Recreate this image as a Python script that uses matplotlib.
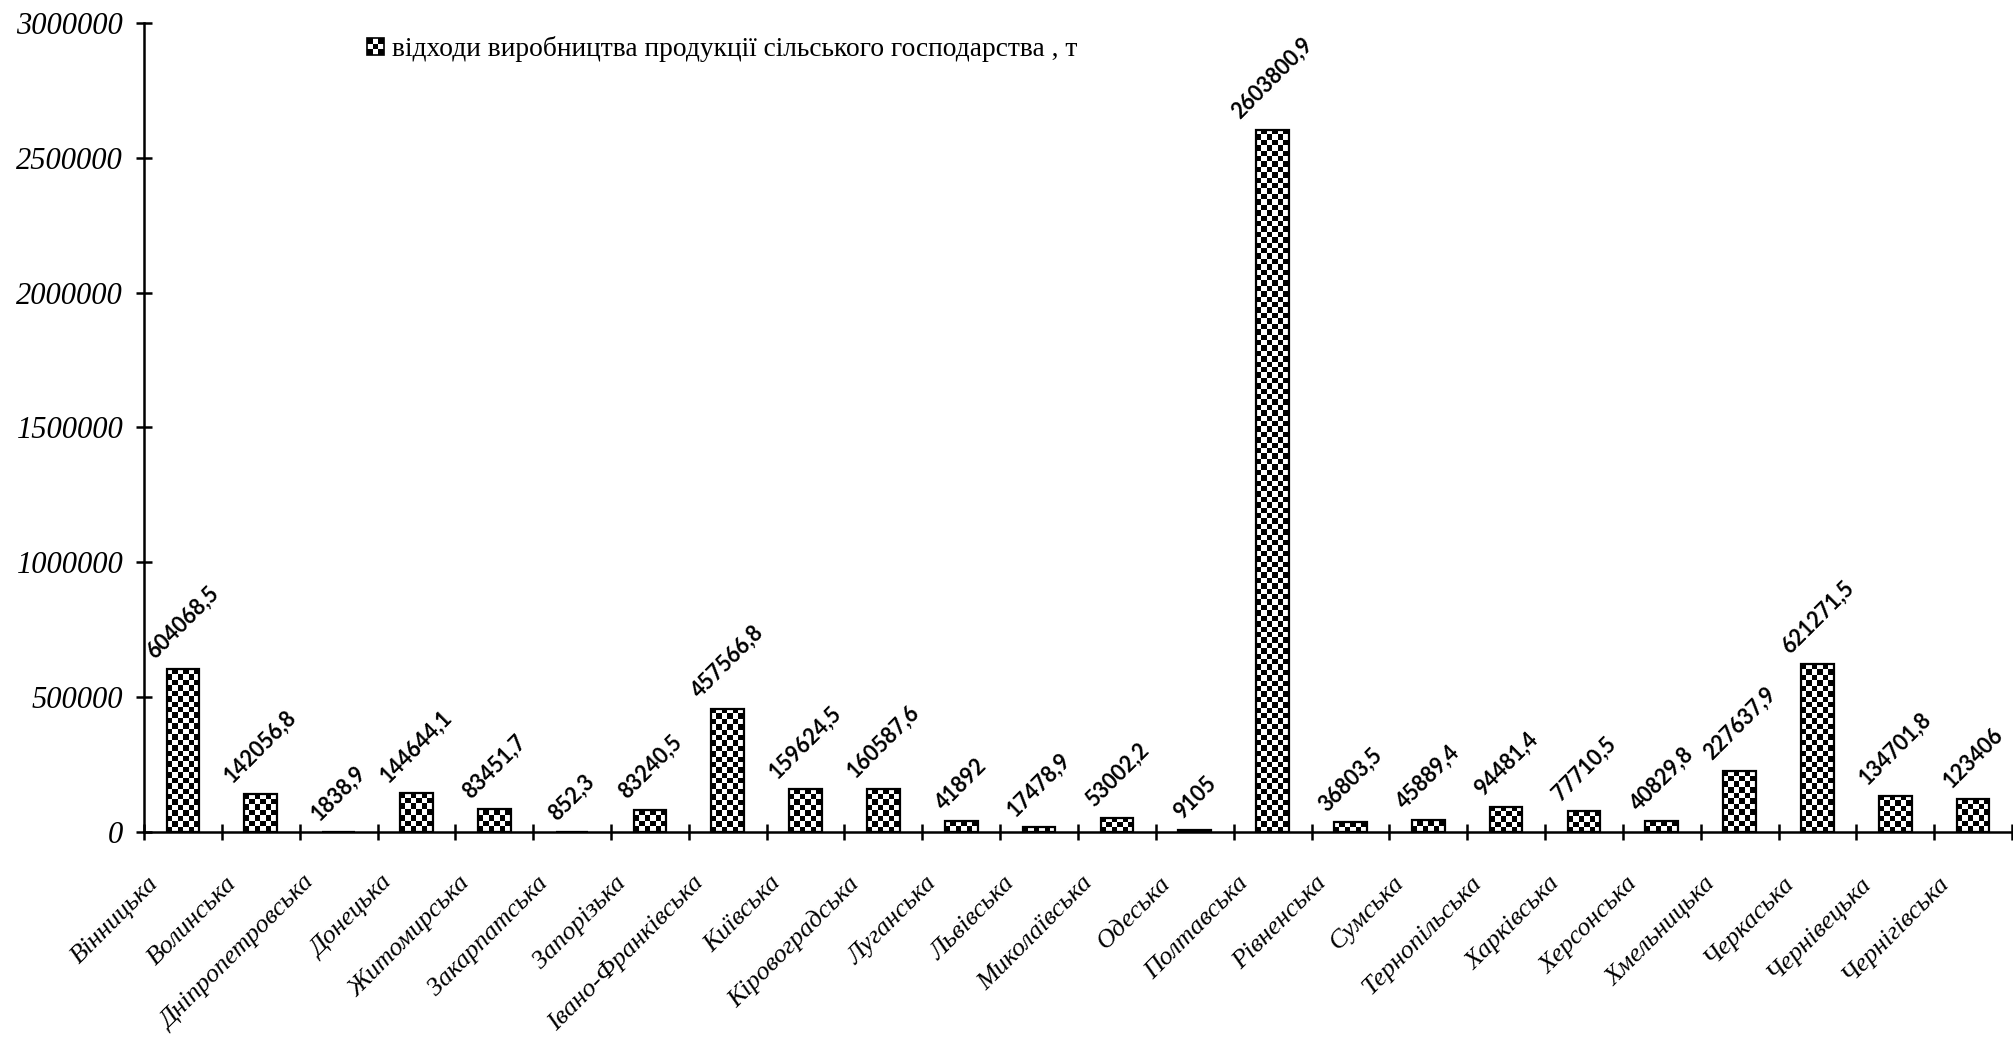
import numpy as np
import matplotlib
matplotlib.use("Agg")
import matplotlib.pyplot as plt
from matplotlib.patches import Rectangle
from matplotlib.legend_handler import HandlerBase
import matplotlib.transforms as mtransforms

regions = ["Вінницька", "Волинська", "Дніпропетровська", "Донецька", "Житомирська",
           "Закарпатська", "Запорізька", "Івано-Франківська", "Київська", "Кіровоградська",
           "Луганська", "Львівська", "Миколаївська", "Одеська", "Полтавська",
           "Рівненська", "Сумська", "Тернопільська", "Харківська", "Херсонська",
           "Хмельницька", "Черкаська", "Чернівецька", "Чернігівська"]
values = [604068.5, 142056.8, 1838.9, 144644.1, 83451.7,
          852.3, 83240.5, 457566.8, 159624.5, 160587.6,
          41892, 17478.9, 53002.2, 9105, 2603800.9,
          36803.5, 45889.4, 94481.4, 77710.5, 40829.8,
          227637.9, 621271.5, 134701.8, 123406]
series_name = "відходи виробництва продукції сільського господарства , т"
yticks = [0, 500000, 1000000, 1500000, 2000000, 2500000, 3000000]

W, H, DPI = 2013, 1040, 100
fig = plt.figure(figsize=(W / DPI, H / DPI), dpi=DPI)
ax_left, ax_bottom, ax_right, ax_top = 144 / W, 1 - 832 / H, 2012 / W, 1 - 23 / H
ax = fig.add_axes([ax_left, ax_bottom, ax_right - ax_left, ax_top - ax_bottom])

x = np.arange(len(regions))
bar_w = 0.42
ymax = 3000000
ax.set_xlim(-0.5, len(regions) - 0.5)
ax.set_ylim(0, ymax)

bars = ax.bar(x, values, width=bar_w, facecolor="none", edgecolor="black",
              linewidth=1.6, zorder=3)

# checkerboard fill for each bar
axh_px = (ax_top - ax_bottom) * H
cell_px = 5.4
for rect, v in zip(bars, values):
    h_px = v / ymax * axh_px
    ny = max(1, int(round(h_px / cell_px)))
    nx = 6
    board = (np.add.outer(np.arange(ny), np.arange(nx)) % 2).astype(float)
    x0 = rect.get_x()
    ax.imshow(board, cmap="gray", vmin=0, vmax=1, interpolation="nearest",
              extent=(x0, x0 + rect.get_width(), 0, v), origin="lower",
              aspect="auto", zorder=2)
ax.set_xlim(-0.5, len(regions) - 0.5)
ax.set_ylim(0, ymax)
ax.set_aspect("auto")

# value labels
def fmt(v):
    s = ("%.1f" % v).rstrip("0").rstrip(".")
    return s.replace(".", ",")

for xi, v in zip(x, values):
    ax.annotate(fmt(v), (xi, v), xytext=(0, 5), textcoords="offset points",
                rotation=45, ha="center", va="bottom", fontsize=15.5,
                fontweight="bold", family="Lato", zorder=4)

# axes styling
for s in ["top", "right"]:
    ax.spines[s].set_visible(False)
for s in ["left", "bottom"]:
    ax.spines[s].set_linewidth(1.8)
ax.set_yticks(yticks)
ax.set_yticklabels([str(t) for t in yticks], family="Liberation Serif",
                   style="italic", fontsize=22)
ax.tick_params(axis="y", direction="inout", length=12, width=1.8, pad=9)
ax.set_xticks(np.arange(-0.5, len(regions), 1.0))
ax.set_xticklabels([])
ax.tick_params(axis="x", direction="inout", length=11, width=1.8)

offset = mtransforms.ScaledTranslation(-20 / DPI, -40 / DPI, fig.dpi_scale_trans)
for xi, name in zip(x, regions):
    ax.text(xi, 0, name, transform=ax.transData + offset, rotation=45,
            ha="right", va="top", family="Liberation Serif", style="italic",
            fontsize=19, clip_on=False)

# legend with checkered marker
class CheckerHandler(HandlerBase):
    def create_artists(self, legend, orig_handle, xdescent, ydescent, width,
                       height, fontsize, trans):
        n = 3
        size = min(width, height) * 0.85
        x0 = -xdescent + (width - size) / 2
        y0 = -ydescent + (height - size) / 2
        cs = size / n
        arts = []
        for i in range(n):
            for j in range(n):
                c = "black" if (i + j) % 2 == 0 else "white"
                arts.append(Rectangle((x0 + i * cs, y0 + j * cs), cs, cs,
                                      facecolor=c, edgecolor="none", transform=trans))
        arts.append(Rectangle((x0, y0), size, size, facecolor="none",
                              edgecolor="black", linewidth=1.2, transform=trans))
        return arts

handle = Rectangle((0, 0), 1, 1)
fig.legend([handle], [series_name], handler_map={Rectangle: CheckerHandler()},
           loc="center left", bbox_to_anchor=(352 / W, 1 - 49 / H), frameon=False,
           prop={"family": "Liberation Serif", "size": 19.8}, borderpad=0,
           handlelength=0.7, handletextpad=0.25)

fig.savefig("out.png", dpi=DPI)
